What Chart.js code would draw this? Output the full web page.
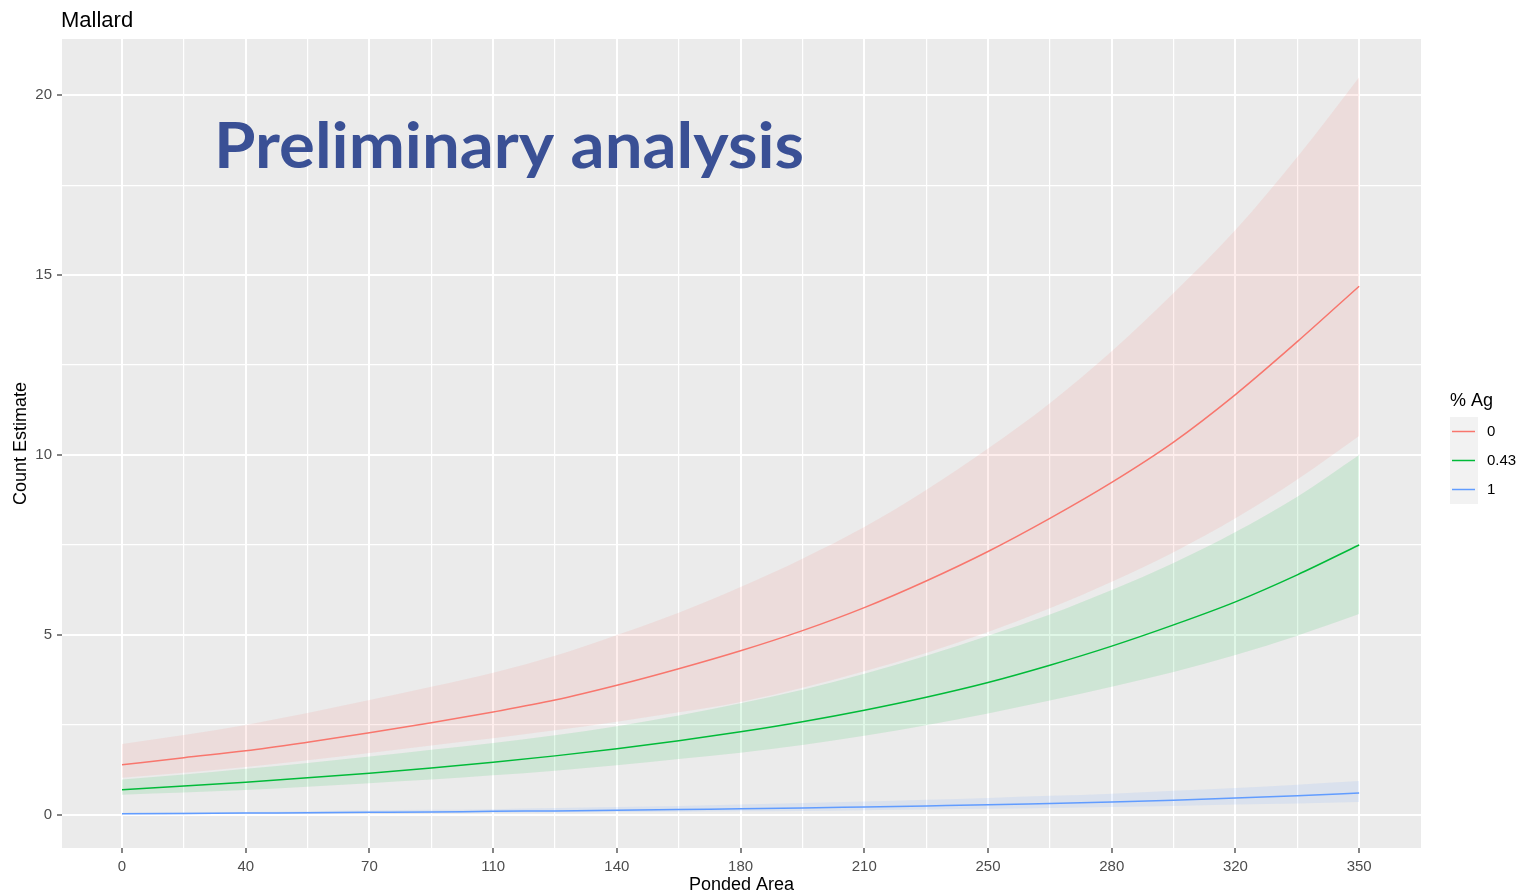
<!DOCTYPE html>
<html>
<head>
<meta charset="utf-8">
<title>Mallard</title>
<script src="https://cdn.jsdelivr.net/npm/chart.js@4.4.1/dist/chart.umd.min.js"></script>
<style>
  html, body { margin: 0; padding: 0; background: #ffffff; }
  #wrap { position: relative; width: 1518px; height: 896px; }
</style>
</head>
<body>
<div id="wrap"><canvas id="myChart" width="1518" height="896"></canvas></div>
<script>
// Ponded area grid (x values read at every gridline)
const pondedArea = [0, 17.5, 35, 52.5, 70, 87.5, 105, 122.5, 140, 157.5, 175,
  192.5, 210, 227.5, 245, 262.5, 280, 297.5, 315, 332.5, 350];

// % Ag = 0
const ag0Fit = [1.39, 1.59, 1.78, 2.02, 2.28, 2.56, 2.86, 3.19, 3.60, 4.06, 4.56,
  5.12, 5.76, 6.50, 7.32, 8.24, 9.24, 10.36, 11.68, 13.15, 14.69];
const ag0Upper = [1.97, 2.22, 2.50, 2.83, 3.19, 3.56, 3.95, 4.42, 5.00, 5.62, 6.33,
  7.12, 8.00, 9.03, 10.18, 11.44, 12.88, 14.50, 16.25, 18.28, 20.50];
const ag0Lower = [1.03, 1.17, 1.33, 1.52, 1.72, 1.93, 2.13, 2.35, 2.59, 2.85, 3.14,
  3.53, 3.99, 4.50, 5.08, 5.74, 6.48, 7.30, 8.24, 9.32, 10.53];

// % Ag = 0.43
const ag43Fit = [0.70, 0.80, 0.91, 1.03, 1.16, 1.30, 1.46, 1.64, 1.84, 2.06, 2.31,
  2.59, 2.91, 3.27, 3.68, 4.16, 4.69, 5.28, 5.92, 6.67, 7.50];
const ag43Upper = [0.98, 1.12, 1.28, 1.44, 1.62, 1.81, 2.00, 2.21, 2.46, 2.76, 3.10,
  3.48, 3.92, 4.42, 4.98, 5.57, 6.25, 7.00, 7.86, 8.84, 10.00];
const ag43Lower = [0.56, 0.62, 0.69, 0.78, 0.88, 0.98, 1.10, 1.23, 1.38, 1.55, 1.73,
  1.94, 2.20, 2.49, 2.82, 3.18, 3.56, 3.97, 4.44, 4.98, 5.58];

// % Ag = 1
const ag1Fit = [0.03, 0.04, 0.05, 0.06, 0.07, 0.08, 0.10, 0.11, 0.13, 0.15, 0.17,
  0.19, 0.22, 0.25, 0.28, 0.32, 0.36, 0.41, 0.47, 0.53, 0.61];
const ag1Upper = [0.06, 0.07, 0.08, 0.10, 0.12, 0.14, 0.16, 0.19, 0.22, 0.25, 0.29,
  0.33, 0.37, 0.42, 0.47, 0.53, 0.59, 0.67, 0.75, 0.84, 0.94];
const ag1Lower = [0.01, 0.02, 0.03, 0.035, 0.04, 0.05, 0.06, 0.07, 0.08, 0.09, 0.10,
  0.11, 0.13, 0.15, 0.17, 0.19, 0.22, 0.25, 0.29, 0.32, 0.36];

// axis breaks and labels
const xBreaks = [0, 17.5, 35, 52.5, 70, 87.5, 105, 122.5, 140, 157.5, 175,
  192.5, 210, 227.5, 245, 262.5, 280, 297.5, 315, 332.5, 350];
const xTickLabels = ["0", "40", "70", "110", "140", "180", "210", "250", "280", "320", "350"];
const yBreaks = [0, 2.5, 5, 7.5, 10, 12.5, 15, 17.5, 20];
const yTickLabels = ["0", "5", "10", "15", "20"];

const groupNames = ["0", "0.43", "1"];
const groupColors = ["#F8766D", "#00BA38", "#619CFF"];
const ribbonColors = ["rgba(248,118,109,0.12)", "rgba(0,186,56,0.12)", "rgba(97,156,255,0.12)"];

const pts = arr => arr.map((v, i) => ({ x: pondedArea[i], y: v }));

const lineSet = (label, vals, i) => ({
  label: label, data: pts(vals), borderColor: groupColors[i], borderWidth: 1.5,
  pointRadius: 0, fill: false, cubicInterpolationMode: "monotone"
});
const upperSet = (vals, i) => ({
  label: "upper", data: pts(vals), borderWidth: 0, borderColor: "rgba(0,0,0,0)",
  backgroundColor: ribbonColors[i], pointRadius: 0, fill: "+1", cubicInterpolationMode: "monotone"
});
const lowerSet = (vals) => ({
  label: "lower", data: pts(vals), borderWidth: 0, borderColor: "rgba(0,0,0,0)",
  pointRadius: 0, fill: false, cubicInterpolationMode: "monotone"
});

const font = "'Liberation Sans', Arial, sans-serif";

const ggDecor = {
  id: "ggDecor",
  beforeDraw(chart) {
    const { ctx, chartArea: a } = chart;
    ctx.save();
    ctx.fillStyle = "#FFFFFF";
    ctx.fillRect(0, 0, chart.width, chart.height);
    ctx.fillStyle = "#EBEBEB";
    ctx.fillRect(a.left, a.top, a.right - a.left, a.bottom - a.top);
    ctx.restore();
  },
  afterDraw(chart) {
    const ctx = chart.ctx;
    ctx.save();
    // plot title
    ctx.fillStyle = "#000000";
    ctx.font = "22px " + font;
    ctx.textBaseline = "alphabetic";
    ctx.textAlign = "left";
    ctx.fillText("Mallard", 61, 27);

    // legend
    ctx.font = "18px " + font;
    ctx.fillText("% Ag", 1450, 406);
    ctx.font = "15px " + font;
    ctx.textBaseline = "middle";
    groupNames.forEach((name, i) => {
      const top = 417 + i * 29;
      ctx.fillStyle = "#F2F2F2";
      ctx.fillRect(1450, top, 28, 29);
      ctx.strokeStyle = groupColors[i];
      ctx.lineWidth = 1.5;
      ctx.beginPath();
      ctx.moveTo(1452, top + 14.5);
      ctx.lineTo(1475, top + 14.5);
      ctx.stroke();
      ctx.fillStyle = "#000000";
      ctx.fillText(name, 1487, top + 15);
    });

    // watermark
    const text = "Preliminary analysis";
    ctx.font = "bold 64px Lato, 'Open Sans', sans-serif";
    const w = ctx.measureText(text).width;
    ctx.translate(214, 168);
    ctx.scale(590 / w, 1);
    ctx.fillStyle = "#3A5095";
    ctx.textBaseline = "alphabetic";
    ctx.fillText(text, 0, 0);
    ctx.restore();
  }
};

const ctx = document.getElementById("myChart").getContext("2d");
const myChart = new Chart(ctx, {
  type: "line",
  data: {
    datasets: [
      lineSet("0", ag0Fit, 0),
      lineSet("0.43", ag43Fit, 1),
      lineSet("1", ag1Fit, 2),
      upperSet(ag0Upper, 0), lowerSet(ag0Lower),
      upperSet(ag43Upper, 1), lowerSet(ag43Lower),
      upperSet(ag1Upper, 2), lowerSet(ag1Lower)
    ]
  },
  options: {
    responsive: false,
    animation: false,
    devicePixelRatio: 1,
    layout: { padding: { top: 39, right: 97, left: 0, bottom: 0 } },
    plugins: {
      legend: { display: false },
      tooltip: { enabled: false },
      filler: { propagate: false }
    },
    scales: {
      x: {
        type: "linear",
        min: -16.98,
        max: 367.5,
        afterBuildTicks: scale => { scale.ticks = xBreaks.map(v => ({ value: v })); },
        afterFit: scale => { scale.height = 48; },
        border: { display: false },
        grid: {
          color: "#FFFFFF",
          lineWidth: c => (c.index % 2 === 0 ? 2 : 1.2),
          tickColor: c => (c.index % 2 === 0 ? "#333333" : "rgba(0,0,0,0)"),
          tickWidth: 1.2,
          tickLength: 5,
          drawTicks: true
        },
        ticks: {
          autoSkip: false,
          maxRotation: 0,
          padding: 5,
          color: "#4D4D4D",
          font: { family: font, size: 15 },
          callback: (v, i) => (i % 2 === 0 ? xTickLabels[i / 2] : "")
        },
        title: {
          display: true,
          text: "Ponded Area",
          color: "#000000",
          font: { family: font, size: 18 },
          padding: { top: 0, bottom: 0 }
        }
      },
      y: {
        type: "linear",
        min: -0.92,
        max: 21.56,
        afterBuildTicks: scale => { scale.ticks = yBreaks.map(v => ({ value: v })); },
        afterFit: scale => { scale.width = 62; },
        border: { display: false },
        grid: {
          color: "#FFFFFF",
          lineWidth: c => (c.index % 2 === 0 ? 2 : 1.2),
          tickColor: c => (c.index % 2 === 0 ? "#333333" : "rgba(0,0,0,0)"),
          tickWidth: 1.2,
          tickLength: 5,
          drawTicks: true
        },
        ticks: {
          autoSkip: false,
          padding: 5,
          color: "#4D4D4D",
          font: { family: font, size: 15 },
          callback: (v, i) => (i % 2 === 0 ? yTickLabels[i / 2] : "")
        },
        title: {
          display: true,
          text: "Count Estimate",
          color: "#000000",
          font: { family: font, size: 18 },
          padding: { top: 10, bottom: 0 }
        }
      }
    }
  },
  plugins: [ggDecor]
});
</script>
</body>
</html>
